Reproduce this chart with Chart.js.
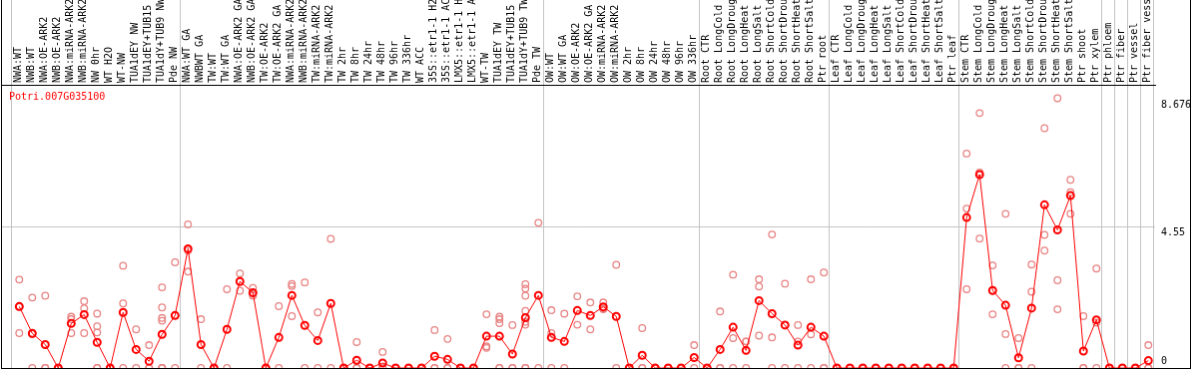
<!DOCTYPE html>
<html>
<head>
<meta charset="utf-8">
<script src="https://cdn.jsdelivr.net/npm/chart.js@4.4.1/dist/chart.umd.min.js"></script>
<style>
  html, body { margin: 0; padding: 0; background: #fff; }
  #wrap { position: relative; width: 1194px; height: 370px; }
  #chart { position: absolute; left: 1px; top: 0; border: 1px solid #000; border-top: none; }
</style>
</head>
<body>
<div id="wrap"><canvas id="chart" width="1190" height="369"></canvas></div>
<script>
const geneId = 'Potri.007G035100';

const samples = [
  'NWA:WT', 'NWB:WT', 'NWA:OE-ARK2', 'NWB:OE-ARK2', 'NWA:miRNA-ARK2', 'NWB:miRNA-ARK2',
  'NW 0hr', 'WT H2O', 'WT-NW', 'TUA1dEY NW', 'TUA1dEY+TUB15', 'TUA1dY+TUB9 NW', 'Pde NW',
  'NWA:WT GA', 'NWBWT GA', 'TW:WT', 'TW:WT GA', 'NWA:OE-ARK2 GA', 'NWB:OE-ARK2 GA',
  'TW:OE-ARK2', 'TW:OE-ARK2 GA', 'NWA:miRNA-ARK2', 'NWB:miRNA-ARK2', 'TW:miRNA-ARK2',
  'TW:miRNA-ARK2', 'TW 2hr', 'TW 8hr', 'TW 24hr', 'TW 48hr', 'TW 96hr', 'TW 336hr',
  'WT ACC', '35S::etr1-1 H2', '35S::etr1-1 AC', 'LMX5::etr1-1 H', 'LMX5::etr1-1 A',
  'WT-TW', 'TUA1dEY TW', 'TUA1dEY+TUB15', 'TUA1dY+TUB9 TW', 'Pde TW',
  'OW:WT', 'OW:WT GA', 'OW:OE-ARK2', 'OW:OE-ARK2 GA', 'OW:miRNA-ARK2', 'OW:miRNA-ARK2',
  'OW 2hr', 'OW 8hr', 'OW 24hr', 'OW 48hr', 'OW 96hr', 'OW 336hr',
  'Root CTR', 'Root LongCold', 'Root LongDroug', 'Root LongHeat', 'Root LongSalt',
  'Root ShortCold', 'Root ShortDrou', 'Root ShortHeat', 'Root ShortSalt', 'Ptr root',
  'Leaf CTR', 'Leaf LongCold', 'Leaf LongDroug', 'Leaf LongHeat', 'Leaf LongSalt',
  'Leaf ShortCold', 'Leaf ShortDrou', 'Leaf ShortHeat', 'Leaf ShortSalt', 'Ptr leaf',
  'Stem CTR', 'Stem LongCold', 'Stem LongDroug', 'Stem LongHeat', 'Stem LongSalt',
  'Stem ShortCold', 'Stem ShortDrou', 'Stem ShortHeat', 'Stem ShortSalt', 'Ptr shoot',
  'Ptr xylem', 'Ptr phloem', 'Ptr fiber', 'Ptr vessel', 'Ptr fiber vess'
];

// mean expression (red line)
const means = [
  1.99, 1.12, 0.76, 0, 1.44, 1.73, 0.83, 0, 1.80, 0.60, 0.22, 1.09, 1.70,
  3.86, 0.76, 0, 1.25, 2.80, 2.44, 0, 0.99, 2.35, 1.38, 0.89, 2.09, 0, 0.25, 0, 0.16,
  0, 0, 0, 0.38, 0.28, 0, 0, 1.03, 1.03, 0.45, 1.63, 2.35,
  0.99, 0.86, 1.86, 1.70, 1.98, 1.67, 0, 0.41, 0, 0, 0, 0.34,
  0, 0.60, 1.32, 0.57, 2.18, 1.76, 1.39, 0.74, 1.32, 1.03,
  0, 0, 0, 0, 0, 0, 0, 0, 0, 0,
  4.87, 6.26, 2.51, 2.03, 0.33, 1.94, 5.28, 4.47, 5.58, 0.55, 1.56,
  0, 0, 0, 0.24
];

// individual replicates (pink circles)
const replicates = [
  [2.86, 1.13, 1.98], [2.28, 1.10, 0], [2.34, 0, 0], [0, 0, 0], [1.66, 1.58, 1.13],
  [2.16, 1.93, 1.13], [1.76, 1.35, 1.15, 0, 0], [0, 0, 0], [3.31, 2.09, 0], [1.25, 0],
  [0.74, 0, 0], [2.61, 1.96, 1.62, 1.53, 0, 0, 0], [3.42, 1.70, 0],
  [4.65, 3.12, 3.80], [1.58, 0], [0, 0, 0], [2.55, 0], [3.06, 2.50], [2.59, 2.34, 2.40],
  [0, 0, 0], [2.00, 0], [2.72, 1.68, 2.65], [2.77, 0], [1.80, 0], [4.18, 0], [0, 0, 0],
  [0.84, 0, 0], [0, 0, 0], [0.52, 0, 0], [0, 0, 0], [0, 0, 0], [0, 0, 0], [1.23, 0, 0],
  [0.94, 0, 0], [0, 0, 0], [0, 0, 0], [1.74, 0.65, 0.70], [1.66, 1.58, 1.45, 0, 0],
  [1.39, 0, 0], [2.71, 2.57, 2.34, 1.85, 1.49, 1.40, 0, 0], [4.70, 0],
  [1.87, 1.13, 0], [1.76, 0], [2.32, 1.40], [2.12, 1.25], [2.12, 1.93, 1.90], [3.34, 0],
  [0, 0, 0], [1.29, 0, 0], [0, 0, 0], [0, 0, 0], [0, 0, 0], [0.74, 0],
  [0, 0, 0], [1.83, 0, 0], [3.02, 0.97, 0], [0.86, 0.86, 0], [2.87, 2.64, 1.05],
  [4.32, 0.99, 0], [2.73, 1.39, 0], [1.39, 0.86, 0], [2.87, 1.09, 0], [3.09, 0, 0],
  [0, 0, 0], [0, 0, 0], [0, 0, 0], [0, 0, 0], [0, 0, 0],
  [0, 0, 0], [0, 0, 0], [0, 0, 0], [0, 0, 0], [0, 0, 0],
  [6.94, 5.16, 2.55], [8.25, 6.33, 4.19], [3.32, 2.51, 1.74], [4.99, 1.10, 0],
  [0.97, 0, 0], [3.35, 2.47, 0], [7.76, 4.31, 3.80], [8.73, 2.84, 1.90],
  [6.09, 5.69, 4.99], [1.68, 0, 0], [3.22, 1.47, 0],
  [0, 0, 0], [0, 0, 0], [0, 0, 0], [0.74, 0, 0]
];

// last sample index of each group (-1 = left edge)
const groupEnds = [-1, 12, 40, 52, 62, 72, 83, 84, 85, 86, 87];

const yTicks = [0, 4.55, 8.676];
const yTickLabels = ['0', '4.55', '8.676'];

const FONT = { family: "'DejaVu Sans Mono', monospace", size: 10 };
const GRID = '#c4c4c4';
const X_MIN = -1.33;
const X_MAX = 87.52;
const Y_MAX = 9.164;

const geneLabel = {
  id: 'geneLabel',
  afterDraw(chart) {
    const { ctx, chartArea } = chart;
    ctx.save();
    ctx.fillStyle = '#ff0000';
    ctx.font = "10px 'DejaVu Sans Mono', monospace";
    ctx.textBaseline = 'top';
    ctx.fillText(geneId, chartArea.left + 7, chartArea.top + 7);
    ctx.restore();
  }
};

// labels hang below their value; the bottom one is lifted above the axis
const yLabel = v => {
  const text = yTickLabels[yTicks.indexOf(v)];
  return v === yTicks[0] ? [text, '', ''] : text;
};

// fixed box sizes, no extra label padding
const fixSize = (w, h) => s => {
  if (w !== null) s.width = w;
  if (h !== null) s.height = h;
  s.paddingLeft = 0;
  s.paddingRight = 0;
  s.paddingTop = 0;
  s.paddingBottom = 0;
};

new Chart(document.getElementById('chart'), {
  type: 'line',
  data: {
    datasets: [
      {
        label: geneId,
        data: means.map((v, i) => ({ x: i, y: v })),
        borderColor: '#ff0000',
        borderWidth: 1,
        tension: 0,
        pointRadius: 3.5,
        pointBorderWidth: 2,
        pointBorderColor: '#ff0000',
        pointBackgroundColor: 'rgba(0,0,0,0)',
        order: 0,
      },
      {
        type: 'scatter',
        label: 'replicates',
        data: replicates.flatMap((vals, i) => vals.map(v => ({ x: i, y: v }))),
        pointRadius: 3.3,
        pointBorderWidth: 1.3,
        pointBorderColor: 'rgb(232,132,132)',
        pointBackgroundColor: 'rgba(0,0,0,0)',
        order: 1,
      },
    ],
  },
  options: {
    responsive: false,
    animation: false,
    devicePixelRatio: 1,
    layout: { padding: 0, autoPadding: false },
    plugins: {
      legend: { display: false },
      tooltip: { enabled: false },
    },
    scales: {
      x: {
        type: 'linear',
        position: 'top',
        min: X_MIN,
        max: X_MAX,
        weight: 1,
        afterBuildTicks: s => { s.ticks = samples.map((_, i) => ({ value: i })); },
        afterFit: fixSize(null, 85),
        grid: { display: false, drawTicks: false },
        border: { color: '#000', width: 1 },
        ticks: {
          autoSkip: false,
          minRotation: 90,
          maxRotation: 90,
          padding: 2,
          labelOffset: 11,
          color: '#000',
          font: FONT,
          callback: v => samples[v],
        },
      },
      sep: {
        type: 'linear',
        position: 'top',
        min: X_MIN,
        max: X_MAX,
        weight: 0,
        afterBuildTicks: s => { s.ticks = groupEnds.map(i => ({ value: i + 0.4 })); },
        afterFit: fixSize(null, 0),
        grid: { color: GRID, lineWidth: 1, drawTicks: true, tickLength: 85 },
        border: { display: false },
        ticks: { display: false },
      },
      y: {
        type: 'linear',
        position: 'right',
        min: 0,
        max: Y_MAX,
        afterBuildTicks: s => { s.ticks = yTicks.map(v => ({ value: v })); },
        afterFit: fixSize(35, null),
        grid: {
          drawTicks: false,
          color: c => (c.tick && c.tick.value === yTicks[1]) ? GRID : 'rgba(0,0,0,0)',
        },
        border: { display: false },
        ticks: {
          autoSkip: false,
          align: 'start',
          padding: 6,
          color: '#000',
          font: FONT,
          callback: yLabel,
        },
      },
    },
  },
  plugins: [geneLabel],
});
</script>
</body>
</html>
